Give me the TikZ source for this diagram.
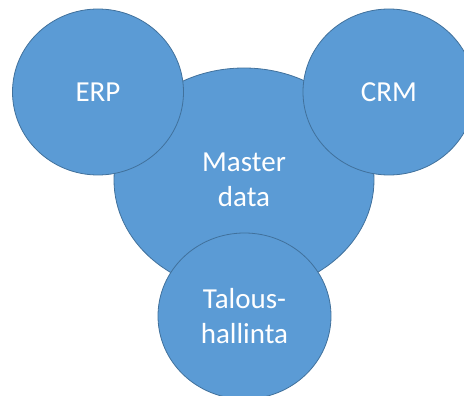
\documentclass[tikz,border=0pt]{standalone}
\usepackage{fontspec}
\setmainfont{Carlito}
\usetikzlibrary{shapes.geometric}
\definecolor{bubblefill}{HTML}{5B9BD5}
\definecolor{bubbleline}{HTML}{41719C}
\tikzset{
  bubble/.style={ellipse, draw=bubbleline, line width=0.8pt, fill=bubblefill,
    inner sep=0pt, text=white, align=center,
    font=\fontsize{29}{35}\selectfont},
}
\begin{document}
\begin{tikzpicture}[x=1pt, y=-1pt]
  \useasboundingbox (0,0) rectangle (464,396);
  \clip (0,0) rectangle (464,396);
  % central shared data store
  \node[bubble, minimum width=260pt, minimum height=224pt] (master) at (244,180) {Master\\data};
  % surrounding systems
  \node[bubble, minimum width=171pt, minimum height=166pt] (erp) at (98,92) {ERP};
  \node[bubble, minimum width=172pt, minimum height=166pt] (crm) at (389,92) {CRM};
  \node[bubble, minimum width=173pt, minimum height=166pt] (talous) at (244.5,316) {Talous-\\hallinta};
\end{tikzpicture}
\end{document}
